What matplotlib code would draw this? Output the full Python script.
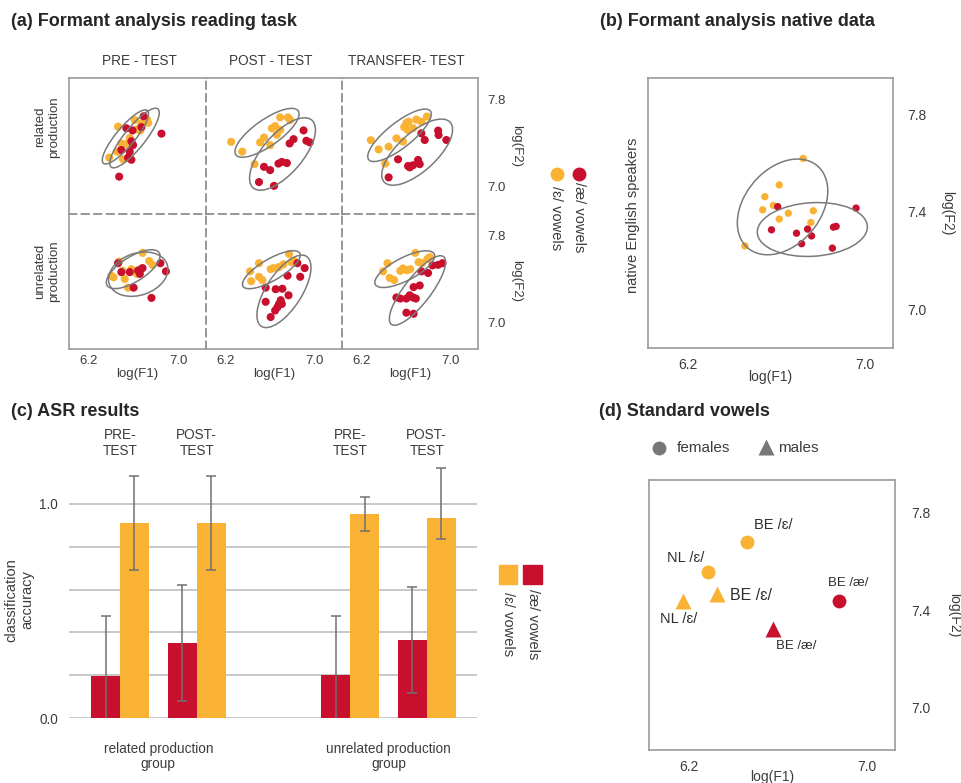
import numpy as np
import matplotlib
matplotlib.use("Agg")
import matplotlib.pyplot as plt
from matplotlib.patches import Ellipse, Rectangle

plt.rcParams['font.family'] = ['Liberation Sans', 'DejaVu Sans']

# ---------------- data ----------------
YEL = '#F9B233'
RED = '#C8102E'
TXT = '#3c3c3c'
FRAME = '#9a9a9a'
ELL = '#7a7a7a'

col_titles = ['PRE - TEST', 'POST - TEST', 'TRANSFER- TEST']
row_titles = ['related\nproduction', 'unrelated\nproduction']

# panel (a): formant scatter, [row][col]
rel_pre_eps_x = [6.46, 6.61, 6.67, 6.72, 6.73, 6.63, 6.66, 6.49, 6.535, 6.58, 6.45, 6.47, 6.38, 6.505, 6.565]
rel_pre_eps_y = [7.555, 7.616, 7.585, 7.62, 7.59, 7.53, 7.52, 7.40, 7.395, 7.395, 7.325, 7.33, 7.27, 7.255, 7.45]
rel_pre_ae_x = [6.69, 6.535, 6.59, 6.67, 6.85, 6.58, 6.49, 6.565, 6.55, 6.58, 6.47, 6.595]
rel_pre_ae_y = [7.65, 7.54, 7.52, 7.55, 7.49, 7.42, 7.34, 7.325, 7.27, 7.25, 7.095, 7.385]

rel_post_eps_x = [6.25, 6.35, 6.46, 6.51, 6.545, 6.60, 6.615, 6.645, 6.66, 6.69, 6.76, 6.78, 6.69]
rel_post_eps_y = [7.415, 7.325, 7.21, 7.41, 7.455, 7.385, 7.54, 7.56, 7.48, 7.64, 7.64, 7.615, 7.525]
rel_post_ae_x = [6.90, 6.81, 6.775, 6.925, 6.955, 6.675, 6.705, 6.75, 6.60, 6.545, 6.50, 6.635]
rel_post_ae_y = [7.52, 7.44, 7.40, 7.425, 7.41, 7.215, 7.23, 7.22, 7.155, 7.185, 7.045, 7.01]

rel_tr_eps_x = [6.28, 6.35, 6.44, 6.41, 6.51, 6.57, 6.58, 6.60, 6.62, 6.66, 6.69, 6.735, 6.785, 6.61]
rel_tr_eps_y = [7.43, 7.345, 7.37, 7.215, 7.447, 7.417, 7.55, 7.59, 7.60, 7.54, 7.62, 7.60, 7.647, 7.524]
rel_tr_ae_x = [6.735, 6.765, 6.886, 6.89, 6.96, 6.525, 6.615, 6.66, 6.705, 6.72, 6.44, 6.63]
rel_tr_ae_y = [7.493, 7.432, 7.518, 7.478, 7.432, 7.254, 7.193, 7.20, 7.248, 7.21, 7.088, 7.18]

unr_pre_eps_x = [6.47, 6.40, 6.42, 6.50, 6.52, 6.55, 6.58, 6.66, 6.68, 6.74, 6.77, 6.63]
unr_pre_eps_y = [7.56, 7.43, 7.415, 7.475, 7.40, 7.32, 7.49, 7.49, 7.64, 7.565, 7.53, 7.447]
unr_pre_ae_x = [6.46, 6.49, 6.565, 6.64, 6.656, 6.60, 6.84, 6.89, 6.76, 6.68]
unr_pre_ae_y = [7.545, 7.463, 7.463, 7.478, 7.447, 7.32, 7.545, 7.47, 7.226, 7.50]

unr_post_eps_x = [6.42, 6.43, 6.50, 6.50, 6.53, 6.605, 6.63, 6.68, 6.72, 6.77, 6.79, 6.81]
unr_post_eps_y = [7.47, 7.38, 7.545, 7.42, 7.39, 7.49, 7.50, 7.51, 7.535, 7.63, 7.555, 7.57]
unr_post_ae_x = [6.845, 6.91, 6.87, 6.756, 6.56, 6.65, 6.71, 6.765, 6.695, 6.705, 6.665, 6.645, 6.56, 6.605, 6.68]
unr_post_ae_y = [7.545, 7.50, 7.42, 7.43, 7.32, 7.306, 7.31, 7.25, 7.205, 7.17, 7.14, 7.11, 7.19, 7.05, 7.17]

unr_tr_eps_x = [6.43, 6.39, 6.45, 6.49, 6.545, 6.57, 6.605, 6.635, 6.68, 6.71, 6.74, 6.79, 6.81]
unr_tr_eps_y = [7.545, 7.47, 7.41, 7.39, 7.475, 7.497, 7.48, 7.49, 7.64, 7.555, 7.545, 7.585, 7.60]
unr_tr_ae_x = [6.835, 6.886, 6.925, 6.735, 6.795, 6.72, 6.665, 6.63, 6.66, 6.685, 6.60, 6.545, 6.51, 6.60, 6.665]
unr_tr_ae_y = [7.525, 7.53, 7.545, 7.47, 7.455, 7.34, 7.325, 7.25, 7.23, 7.22, 7.22, 7.22, 7.23, 7.09, 7.08]

# ellipses: [center x, center y, width, height, angle]
rel_pre_ell = [[6.526, 7.46, 0.625, 0.17, 51], [6.608, 7.45, 0.68, 0.19, 52]]
rel_post_ell = [[6.572, 7.498, 0.69, 0.24, 36], [6.711, 7.303, 0.815, 0.36, 50]]
rel_tr_ell = [[6.538, 7.475, 0.713, 0.23, 39], [6.697, 7.32, 0.81, 0.35, 43]]
unr_pre_ell = [[6.596, 7.49, 0.556, 0.227, 33], [6.641, 7.444, 0.55, 0.385, 20]]
unr_post_ell = [[6.611, 7.485, 0.594, 0.197, 31], [6.724, 7.286, 0.76, 0.32, 58]]
unr_tr_ell = [[6.585, 7.49, 0.60, 0.21, 28], [6.70, 7.294, 0.78, 0.24, 53]]

# panel (b): native speakers
nat_eps_x = [6.72, 6.612, 6.547, 6.585, 6.537, 6.612, 6.653, 6.766, 6.755, 6.457]
nat_eps_y = [7.618, 7.509, 7.461, 7.425, 7.407, 7.369, 7.393, 7.403, 7.355, 7.259]
nat_ae_x = [6.605, 6.577, 6.69, 6.74, 6.758, 6.713, 6.852, 6.857, 6.869, 6.959]
nat_ae_y = [7.42, 7.325, 7.311, 7.328, 7.30, 7.268, 7.25, 7.336, 7.339, 7.414]
nat_ell = [[6.627, 7.419, 0.463, 0.327, 41.6], [6.7615, 7.3263, 0.498, 0.22, 3]]

# panel (c): ASR results
test_labels = ['PRE-\nTEST', 'POST-\nTEST', 'PRE-\nTEST', 'POST-\nTEST']
group_labels = ['related production\ngroup', 'unrelated production\ngroup']
ae_acc = [0.195, 0.35, 0.20, 0.365]
ae_err = [0.28, 0.272, 0.277, 0.247]
eps_acc = [0.91, 0.91, 0.953, 0.935]
eps_err_lo = [0.22, 0.218, 0.08, 0.099]
eps_err_hi = [0.22, 0.218, 0.08, 0.233]

# panel (d): standard vowels
std_labels = ['BE /ɛ/', 'NL /ɛ/', 'BE /æ/', 'NL /ɛ/', 'BE /ɛ/', 'BE /æ/']
std_sex = ['female', 'female', 'female', 'male', 'male', 'male']
std_vowel = ['eps', 'eps', 'ae', 'eps', 'eps', 'ae']
std_x = [6.459, 6.286, 6.877, 6.173, 6.328, 6.576]
std_y = [7.681, 7.556, 7.44, 7.44, 7.468, 7.323]

# ---------------- layout / style ----------------
W, H = 961, 783
fig = plt.figure(figsize=(W / 100, H / 100), dpi=100)


def px_rect(l, t, r, b):
    return [l / W, 1 - b / H, (r - l) / W, (b - t) / H]


ov = fig.add_axes([0, 0, 1, 1], zorder=5)
ov.set_xlim(0, W)
ov.set_ylim(H, 0)
ov.axis('off')
ov.patch.set_alpha(0)

title_kw = dict(fontsize=13, fontweight='bold', color='#262626', va='baseline', ha='left')
ov.text(11, 26, '(a) Formant analysis reading task', **title_kw)
ov.text(600, 26, '(b) Formant analysis native data', **title_kw)
ov.text(11, 416, '(c) ASR results', **title_kw)
ov.text(599, 416, '(d) Standard vowels', **title_kw)

# ---- panel (a)
col_edges = [69, 205.5, 342, 478]
row_edges = [78, 213.5, 349]
xlim_a = (6.02, 7.245)
ylim_a = (6.756, 8.002)

scatter_data = [
    [(rel_pre_eps_x, rel_pre_eps_y, rel_pre_ae_x, rel_pre_ae_y, rel_pre_ell),
     (rel_post_eps_x, rel_post_eps_y, rel_post_ae_x, rel_post_ae_y, rel_post_ell),
     (rel_tr_eps_x, rel_tr_eps_y, rel_tr_ae_x, rel_tr_ae_y, rel_tr_ell)],
    [(unr_pre_eps_x, unr_pre_eps_y, unr_pre_ae_x, unr_pre_ae_y, unr_pre_ell),
     (unr_post_eps_x, unr_post_eps_y, unr_post_ae_x, unr_post_ae_y, unr_post_ell),
     (unr_tr_eps_x, unr_tr_eps_y, unr_tr_ae_x, unr_tr_ae_y, unr_tr_ell)],
]

dash = (0, (4.5, 3))
for r in range(2):
    for c in range(3):
        ax = fig.add_axes(px_rect(col_edges[c], row_edges[r], col_edges[c + 1], row_edges[r + 1]))
        ax.set_xlim(*xlim_a)
        ax.set_ylim(*ylim_a)
        ax.patch.set_alpha(0)
        ex, ey, ax_, ay_, ells = scatter_data[r][c]
        for e in ells:
            ax.add_patch(Ellipse((e[0], e[1]), e[2], e[3], angle=e[4], fill=False,
                                 edgecolor=ELL, lw=1.1, zorder=3))
        ax.scatter(ex, ey, s=34, color=YEL, edgecolors='none', zorder=2)
        ax.scatter(ax_, ay_, s=34, color=RED, edgecolors='none', zorder=2)
        for side in ['left', 'right', 'top', 'bottom']:
            ax.spines[side].set_color(FRAME)
            ax.spines[side].set_linewidth(1.2)
        ax.spines['left'].set_visible(c == 0)
        ax.spines['top'].set_visible(r == 0)
        if c < 2:
            ax.spines['right'].set_linestyle(dash)
            ax.spines['right'].set_color('#858585')
        if r == 0:
            ax.spines['bottom'].set_linestyle(dash)
            ax.spines['bottom'].set_color('#858585')
        ax.tick_params(length=0, labelsize=9.5, colors=TXT)
        if r == 1:
            ax.set_xticks([6.2, 7.0])
            ax.set_xticklabels(['6.2', '7.0'])
            ax.tick_params(axis='x', pad=4.5)
            ax.set_xlabel('log(F1)', fontsize=9.5, color=TXT, labelpad=0.5)
        else:
            ax.set_xticks([])
        if c == 2:
            ax.yaxis.tick_right()
            ax.set_yticks([7.8, 7.0])
            ax.set_yticklabels(['7.8', '7.0'])
            ax.tick_params(axis='y', pad=7)
            ax.yaxis.set_label_position('right')
            ax.set_ylabel('log(F2)', fontsize=9.5, color=TXT, rotation=270,
                          va='bottom', labelpad=3)
        else:
            ax.set_yticks([])

head_x = [139, 271, 406]
for c in range(3):
    ov.text(head_x[c], 61, col_titles[c], fontsize=9.8, color=TXT, ha='center', va='center')
ov.text(47, 127, row_titles[0], rotation=90, ha='center', va='center', fontsize=9.5,
        color=TXT, linespacing=1.15, family=['Liberation Sans Narrow', 'Liberation Sans', 'DejaVu Sans'])
ov.text(47, 271, row_titles[1], rotation=90, ha='center', va='center', fontsize=9.5,
        color=TXT, linespacing=1.15, family=['Liberation Sans Narrow', 'Liberation Sans', 'DejaVu Sans'])

# legend (a)
ov.plot([557], [174], 'o', ms=10, color=YEL, mec='none')
ov.plot([579], [174], 'o', ms=10, color=RED, mec='none')
ov.text(556, 186, '/ɛ/ vowels', rotation=270, ha='center', va='top', fontsize=10.5, color=TXT)
ov.text(579, 182, '/æ/ vowels', rotation=270, ha='center', va='top', fontsize=10.5, color=TXT)

# ---- panel (b)
axb = fig.add_axes(px_rect(648, 78, 893, 348))
axb.set_xlim(6.019, 7.126)
axb.set_ylim(6.84, 7.948)
for e in nat_ell:
    axb.add_patch(Ellipse((e[0], e[1]), e[2], e[3], angle=e[4], fill=False,
                          edgecolor=ELL, lw=1.1, zorder=3))
axb.scatter(nat_eps_x, nat_eps_y, s=28, color=YEL, edgecolors='none', zorder=2)
axb.scatter(nat_ae_x, nat_ae_y, s=28, color=RED, edgecolors='none', zorder=2)
for sp in axb.spines.values():
    sp.set_color(FRAME)
    sp.set_linewidth(1.2)
axb.set_xticks([6.2, 7.0])
axb.set_xticklabels(['6.2', '7.0'])
axb.yaxis.tick_right()
axb.set_yticks([7.8, 7.4, 7.0])
axb.set_yticklabels(['7.8', '7.4', '7.0'])
axb.tick_params(length=0, labelsize=10, colors=TXT)
axb.tick_params(axis='x', pad=7)
axb.tick_params(axis='y', pad=10)
axb.set_xlabel('log(F1)', fontsize=10, color=TXT, labelpad=-1)
axb.yaxis.set_label_position('right')
axb.set_ylabel('log(F2)', fontsize=10, color=TXT, rotation=270, va='bottom', labelpad=10)
ov.text(633, 215, 'native English speakers', rotation=90, ha='center', va='center',
        fontsize=10.5, color=TXT)

# ---- panel (c)
bar_pos = np.array([0, 1, 3, 4])
bw = 0.378
axc = fig.add_axes(px_rect(69, 461, 477, 718))
axc.set_xlim(-0.665, 4.655)
axc.set_ylim(0, 1.2)
axc.bar(bar_pos - bw / 2, ae_acc, width=bw, color=RED, zorder=2)
axc.bar(bar_pos + bw / 2, eps_acc, width=bw, color=YEL, zorder=2)
axc.errorbar(bar_pos - bw / 2, ae_acc, yerr=ae_err, fmt='none', ecolor='#707070',
             elinewidth=1.1, capsize=3.5, capthick=1.1, zorder=3)
axc.errorbar(bar_pos + bw / 2, eps_acc, yerr=[eps_err_lo, eps_err_hi], fmt='none',
             ecolor='#707070', elinewidth=1.1, capsize=3.5, capthick=1.1, zorder=3)
axc.set_yticks(np.arange(0, 1.01, 0.2))
axc.set_yticklabels(['0.0', '', '', '', '', '1.0'])
axc.yaxis.grid(True, color='#c4c4c4', lw=1.3, zorder=0)
axc.set_axisbelow(True)
for sp in axc.spines.values():
    sp.set_visible(False)
axc.set_xticks([(bar_pos[0] + bar_pos[1]) / 2, (bar_pos[2] + bar_pos[3]) / 2])
axc.set_xticklabels(group_labels, linespacing=1.15)
axc.tick_params(length=0, labelsize=9.8, colors=TXT)
axc.tick_params(axis='x', pad=17)
axc.tick_params(axis='y', pad=8)
axc.set_ylabel('classification\naccuracy', fontsize=10.5, color=TXT, linespacing=1.1)
axc.yaxis.set_label_coords(-0.086, 0.46)
for p, lab in zip(bar_pos, test_labels):
    axc.text(p, 1.283, lab, ha='center', va='center', fontsize=9.8, color=TXT,
             linespacing=1.15, clip_on=False)

# legend (c)
ov.add_patch(Rectangle((499, 565), 18, 19, color=YEL))
ov.add_patch(Rectangle((523, 565), 19, 19, color=RED))
ov.text(508, 592, '/ɛ/ vowels', rotation=270, ha='center', va='top', fontsize=10.5, color=TXT)
ov.text(533, 589, '/æ/ vowels', rotation=270, ha='center', va='top', fontsize=10.5, color=TXT)

# ---- panel (d)
axd = fig.add_axes(px_rect(649, 480, 895, 750))
axd.set_xlim(6.02, 7.127)
axd.set_ylim(6.827, 7.935)
label_offsets = [(19, 12), (-16, 10), (6, 13), (-3, -13), (24, -1), (17, -12)]
label_sizes = [10.5, 10.5, 9.5, 10.5, 11.5, 9.5]
for lab, sx, vw, x, y, off, fs in zip(std_labels, std_sex, std_vowel, std_x, std_y,
                                      label_offsets, label_sizes):
    col = YEL if vw == 'eps' else RED
    mk = 'o' if sx == 'female' else '^'
    ms = 10 if sx == 'female' else 11.5
    axd.plot([x], [y], marker=mk, ms=ms, color=col, mec='none', ls='none')
    axd.annotate(lab, (x, y), xytext=off, textcoords='offset points', ha='center',
                 va='center', fontsize=fs, color='#2e2e2e')
for sp in axd.spines.values():
    sp.set_color(FRAME)
    sp.set_linewidth(1.2)
axd.set_xticks([6.2, 7.0])
axd.set_xticklabels(['6.2', '7.0'])
axd.yaxis.tick_right()
axd.set_yticks([7.8, 7.4, 7.0])
axd.set_yticklabels(['7.8', '7.4', '7.0'])
axd.tick_params(length=0, labelsize=10, colors=TXT)
axd.tick_params(axis='x', pad=7)
axd.tick_params(axis='y', pad=12)
axd.set_xlabel('log(F1)', fontsize=10, color=TXT, labelpad=-3)
axd.yaxis.set_label_position('right')
axd.set_ylabel('log(F2)', fontsize=10, color=TXT, rotation=270, va='bottom', labelpad=12)

# legend (d)
ov.plot([659], [448], 'o', ms=10, color='#777777', mec='none')
ov.plot([766], [447], '^', ms=11, color='#777777', mec='none')
ov.text(677, 448, 'females', fontsize=11, color=TXT, va='center', ha='left')
ov.text(778, 448, 'males', fontsize=11, color=TXT, va='center', ha='left')

fig.savefig('out.png', dpi=100)
